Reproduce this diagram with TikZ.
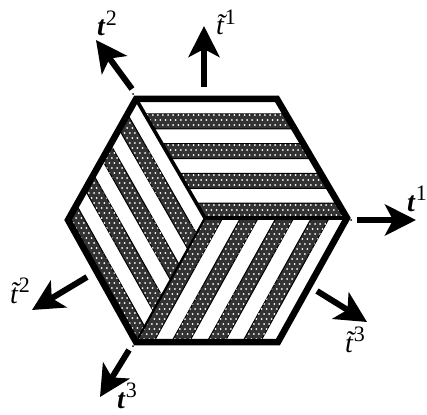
\documentclass[tikz,border=0pt]{standalone}
\usepackage{fontspec}
\setmainfont{Liberation Serif}
\usetikzlibrary{calc,arrows.meta}
\definecolor{stripe}{gray}{0.2}
\tikzset{
  vec/.style={line width=6pt,-{Stealth[length=31pt,width=31pt,inset=8pt]}},
  lab/.style={inner sep=0pt,anchor=base west},
  outer/.style={line width=6.5pt,line join=miter},
  inner/.style={line width=3.6pt},
  pin/.style={fill=black}
}
\newcommand{\lbl}[2]{\fontsize{28}{28}\selectfont{\itshape #1}\kern1pt\raisebox{10.5pt}{\fontsize{22}{22}\selectfont #2}}
\begin{document}
\begin{tikzpicture}[x=1pt,y=-1pt]
\useasboundingbox (0,0) rectangle (427,414);
\coordinate (TL) at (136,99);
\coordinate (TR) at (277,99);
\coordinate (R) at (347,218);
\coordinate (BR) at (278,342);
\coordinate (BL) at (136,342);
\coordinate (L) at (68,220);
\coordinate (C) at (205,218);
% top rhombus
\begin{scope}
  \fill[stripe,draw=black,line width=1pt] \foreach \i/\j in {1/2,3/4,5/6,7/8}{
    ($(TL)!\i/8!(C)$) -- ($(TL)!\j/8!(C)$) -- ($(TR)!\j/8!(R)$) -- ($(TR)!\i/8!(R)$) -- cycle };
  \clip \foreach \i/\j in {1/2,3/4,5/6,7/8}{
    ($(TL)!\i/8!(C)$) -- ($(TL)!\j/8!(C)$) -- ($(TR)!\j/8!(R)$) -- ($(TR)!\i/8!(R)$) -- cycle };
  \fill[white] \foreach \r in {0,...,24}{ \foreach \q in {0,...,46}{
    ({140+\q*5.1+mod(\r,2)*2.55},{100+\r*5.0}) circle (1) } };
\end{scope}
% lower rhombus
\begin{scope}
  \fill[stripe,draw=black,line width=1pt] \foreach \i/\j in {0/1,2/3,4/5,6/7}{
    ($(BL)!\i/8!(BR)$) -- ($(BL)!\j/8!(BR)$) -- ($(C)!\j/8!(R)$) -- ($(C)!\i/8!(R)$) -- cycle };
  \clip \foreach \i/\j in {0/1,2/3,4/5,6/7}{
    ($(BL)!\i/8!(BR)$) -- ($(BL)!\j/8!(BR)$) -- ($(C)!\j/8!(R)$) -- ($(C)!\i/8!(R)$) -- cycle };
  \fill[white] \foreach \r in {0,...,25}{ \foreach \q in {0,...,44}{
    ({134+\q*5.1+mod(\r,2)*2.55},{219+\r*5.0}) circle (1) } };
\end{scope}
% left rhombus
\begin{scope}
  \fill[stripe,draw=black,line width=1pt] \foreach \i/\j in {1/2,3/4,5/6,7/8}{
    ($(TL)!\i/8!(L)$) -- ($(TL)!\j/8!(L)$) -- ($(C)!\j/8!(BL)$) -- ($(C)!\i/8!(BL)$) -- cycle };
  \clip \foreach \i/\j in {1/2,3/4,5/6,7/8}{
    ($(TL)!\i/8!(L)$) -- ($(TL)!\j/8!(L)$) -- ($(C)!\j/8!(BL)$) -- ($(C)!\i/8!(BL)$) -- cycle };
  \fill[white] \foreach \r in {0,...,49}{ \foreach \q in {0,...,28}{
    ({66+\q*5.1+mod(\r,2)*2.55},{98+\r*5.0}) circle (1) } };
\end{scope}
% inner and outer lines
\draw[inner] (TL) -- (C) -- (R);
\draw[line width=2.2pt] (C) -- (BL);
\draw[outer] (TL) -- (TR) -- (R) -- (BR) -- (BL) -- (L) -- cycle;
% tiny registration marks
\fill[pin] (133,94) circle (1);
\fill[pin] (133,346) circle (1);
\fill[pin] (351,220) circle (1);
% arrows
\coordinate (a1s) at (357,220); \coordinate (a1e) at (416,220);
\coordinate (b1s) at (204,87);  \coordinate (b1e) at (204,26);
\coordinate (a2s) at (132,89);  \coordinate (a2e) at (96,40);
\coordinate (b2s) at (87,277);  \coordinate (b2e) at (32,310);
\coordinate (a3s) at (129,350); \coordinate (a3e) at (100,397);
\coordinate (b3s) at (317,291); \coordinate (b3e) at (367,322);
\draw[vec] (a1s) -- (a1e);
\draw[vec] (b1s) -- (b1e);
\draw[vec] (a2s) -- (a2e);
\draw[vec] (b2s) -- (b2e);
\draw[vec] (a3s) -- (a3e);
\draw[vec] (b3s) -- (b3e);
% labels
\node[lab] (l1) at (407,211) {\lbl{\bfseries t}{1}};
\node[lab] (l2) at (97,36) {\lbl{\bfseries t}{2}};
\node[lab] (l3) at (117,408) {\lbl{\bfseries t}{3}};
\node[lab] (m1) at (216,35) {\lbl{\~t}{1}};
\node[lab] (m2) at (10,303) {\lbl{\~t}{2}};
\node[lab] (m3) at (345,352) {\lbl{\~t}{3}};
\end{tikzpicture}
\end{document}
